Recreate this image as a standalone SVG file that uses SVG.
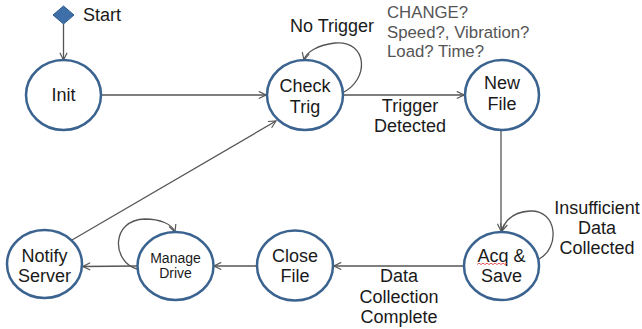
<svg xmlns="http://www.w3.org/2000/svg" width="642" height="329" viewBox="0 0 642 329">
  <style>
    .state { fill: #ffffff; stroke: #3b6390; stroke-width: 2.5; }
    .lbl { font-family: "Liberation Sans", Arial, sans-serif; font-size: 18px; fill: #1a1a1a; text-anchor: middle; }
    .small { font-size: 14px; }
    .note { font-family: "Liberation Sans", Arial, sans-serif; font-size: 16.8px; fill: #555555; }
    .edge { fill: none; stroke: #555555; stroke-width: 1.3; marker-end: url(#open); }
  </style>
  <defs>
    <marker id="open" viewBox="0 0 10 10" refX="9" refY="5" markerWidth="9" markerHeight="9" markerUnits="userSpaceOnUse" orient="auto">
      <path d="M1,1 L9,5 L1,9" fill="none" stroke="#555555" stroke-width="1.3"/>
    </marker>
  </defs>

  <rect width="642" height="329" fill="#ffffff"/>

  <!-- transitions -->
  <g id="connectors">
    <path class="edge" d="M63.5,24 L63.5,60"/>
    <path class="edge" d="M101,95 L266,95"/>
    <path class="edge" d="M342,93 C370,80 368,40 335,43 C318,45 306,52 304,60"/>
    <path class="edge" d="M343,95 L464,95"/>
    <path class="edge" d="M501,130 L501,231"/>
    <path class="edge" d="M539,259 C560,248 558,210 530,211 C514,212 505,220 502,231"/>
    <path class="edge" d="M464,266 L334,266"/>
    <path class="edge" d="M257,266 L214,266"/>
    <path class="edge" d="M137,269 C112,262 110,220 145,219 C160,219 172,224 175,232"/>
    <path class="edge" d="M137,266 L83,266.5"/>
    <path class="edge" d="M72,240 L276,121"/>
  </g>

  <!-- transition labels -->
  <g id="edge-labels">
    <text class="lbl" x="332" y="32">No Trigger</text>
    <text class="lbl" x="410" y="112">Trigger</text>
    <text class="lbl" x="410" y="132">Detected</text>
    <text class="lbl" x="597" y="214">Insufficient</text>
    <text class="lbl" x="597" y="234">Data</text>
    <text class="lbl" x="597" y="254">Collected</text>
    <text class="lbl" x="399" y="282">Data</text>
    <text class="lbl" x="399" y="303">Collection</text>
    <text class="lbl" x="399" y="323">Complete</text>
    <text class="note" x="387" y="18">CHANGE?</text>
    <text class="note" x="387" y="38">Speed?, Vibration?</text>
    <text class="note" x="387" y="57">Load? Time?</text>
  </g>

  <g id="start">
    <polygon points="63.5,6 74,15 63.5,24 53,15" fill="#3f6fa8" stroke="#2f5a8c" stroke-width="1"/>
    <text class="lbl" x="83" y="21" style="text-anchor:start">Start</text>
  </g>

  <g id="init">
    <ellipse class="state" cx="63.5" cy="95" rx="37.5" ry="35"/>
    <text class="lbl" x="63.5" y="101">Init</text>
  </g>

  <g id="check-trig">
    <ellipse class="state" cx="305" cy="95" rx="38" ry="35"/>
    <text class="lbl" x="305" y="92">Check</text>
    <text class="lbl" x="305" y="113">Trig</text>
  </g>

  <g id="new-file">
    <ellipse class="state" cx="502" cy="95" rx="37" ry="35"/>
    <text class="lbl" x="502" y="89">New</text>
    <text class="lbl" x="502" y="110">File</text>
  </g>

  <g id="acq-save">
    <ellipse class="state" cx="501.5" cy="266" rx="37.5" ry="34"/>
    <text class="lbl" x="501.5" y="262">Acq &amp;</text>
    <text class="lbl" x="501.5" y="282">Save</text>
    <path d="M477,264.5 l2,-1.3 l2,1.3 l2,-1.3 l2,1.3 l2,-1.3 l2,1.3 l2,-1.3 l2,1.3 l2,-1.3 l2,1.3 l2,-1.3 l2,1.3 l2,-1.3 l2,1.3 l2,-1.3" fill="none" stroke="#e03030" stroke-width="0.8"/>
  </g>

  <g id="close-file">
    <ellipse class="state" cx="295" cy="265.5" rx="38" ry="35"/>
    <text class="lbl" x="295" y="262">Close</text>
    <text class="lbl" x="295" y="282">File</text>
  </g>

  <g id="manage-drive">
    <ellipse class="state" cx="175.5" cy="266" rx="38" ry="34"/>
    <text class="lbl small" x="175.5" y="263">Manage</text>
    <text class="lbl small" x="175.5" y="278">Drive</text>
  </g>

  <g id="notify-server">
    <ellipse class="state" cx="44.5" cy="264" rx="37.5" ry="34"/>
    <text class="lbl" x="44.5" y="262">Notify</text>
    <text class="lbl" x="44.5" y="282">Server</text>
  </g>
</svg>
